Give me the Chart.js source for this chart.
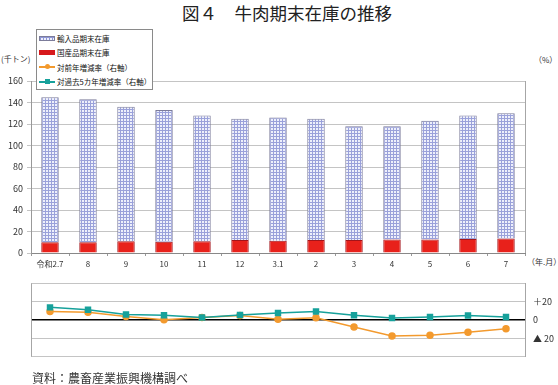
<!DOCTYPE html>
<html lang="ja">
<head>
<meta charset="utf-8">
<script src="https://cdn.jsdelivr.net/npm/chart.js@4/dist/chart.umd.min.js"></script>
<style>
  html, body { margin: 0; padding: 0; background: #fff; }
  body { width: 558px; height: 385px; position: relative; overflow: hidden;
         font-family: "Noto Sans CJK JP", "Noto Sans", sans-serif; color: #222; }
  .abs { position: absolute; white-space: nowrap; }
  #title { left: 0; width: 574px; top: 0px; text-align: center; font-size: 17.5px; }
  #footer { left: 32px; top: 369px; font-size: 12px; color: #333; }
  .unit { font-size: 8px; color: #333; }
  #legend { left: 36px; top: 29px; width: 117px; height: 61px; border: 1px solid #8a8a8a;
            background: #fff; font-size: 7.5px; color: #111; z-index: 3; box-sizing: border-box; padding: 1px 0 0 2px; }
  #legend .row { height: 14.5px; display: flex; align-items: center; }
  #legend .sw { width: 16px; height: 5px; margin-right: 2px; position: relative; }
  .sw.imp { border: 1px solid #7c7c9a; height: 3px !important; width: 14px !important;
            background-color: #eef0fb;
            background-image: linear-gradient(#8f97d6 1px, transparent 1px), linear-gradient(90deg, #8f97d6 1px, transparent 1px);
            background-size: 3px 3px; }
  .sw.dom { background: #d7191c; }
  .sw.ln { height: 2px !important; }
  .sw.ln i { position: absolute; left: 6px; top: -2px; width: 5px; height: 5px; }
  canvas { position: absolute; left: 0; }
</style>
</head>
<body>
<div id="title" class="abs">図４　牛肉期末在庫の推移</div>
<div class="abs unit" style="left:1px; top:53px;">(千トン)</div>
<div class="abs unit" style="left:534px; top:54px;">（%）</div>
<div class="abs unit" style="left:527px; top:256px;">（年.月）</div>
<div id="legend" class="abs">
  <div class="row"><span class="sw imp"></span>輸入品期末在庫</div>
  <div class="row"><span class="sw dom"></span>国産品期末在庫</div>
  <div class="row"><span class="sw ln" style="background:#f39a2e"><i style="background:#f39a2e;border-radius:50%"></i></span>対前年増減率（右軸）</div>
  <div class="row"><span class="sw ln" style="background:#17a19b"><i style="background:#17a19b"></i></span>対過去5カ年増減率（右軸）</div>
</div>
<canvas id="stock" width="558" height="200" style="top:70px"></canvas>
<canvas id="rate" width="558" height="100" style="top:270px"></canvas>
<div id="footer" class="abs">資料：農畜産業振興機構調べ</div>

<script>
// 年.月
const months = ['令和2.7', '8', '9', '10', '11', '12', '3.1', '2', '3', '4', '5', '6', '7'];
// 期末在庫（千トン）
const domestic = [10, 10, 11, 10.5, 11, 12, 11.5, 12, 12, 12.5, 12.5, 13, 13.5];
const imported = [135, 133, 125, 122.5, 117, 113, 114.5, 113, 106, 105.5, 110.5, 115, 116.5];
// 増減率（%）
const yoyRate = [9.2, 8.6, 3.7, 0.3, 2.7, 4.9, 0.9, 2.4, -7.7, -17.5, -16.6, -13.3, -9.6];
const fiveYearRate = [13.8, 11.3, 6.1, 5.2, 2.7, 5.5, 7.6, 9.2, 5.2, 2.1, 3.3, 4.9, 3.3];
const stockTicks = [0, 20, 40, 60, 80, 100, 120, 140, 160];

const FONT = '"Noto Sans CJK JP", "Noto Sans", sans-serif';
Chart.defaults.font.family = FONT;
Chart.defaults.color = '#333';

function gridPattern() {
  const c = document.createElement('canvas');
  c.width = 3; c.height = 3;
  const g = c.getContext('2d');
  g.fillStyle = '#eef0fb';
  g.fillRect(0, 0, 3, 3);
  g.fillStyle = '#9aa1da';
  g.fillRect(0, 0, 3, 1);
  g.fillRect(0, 0, 1, 3);
  return g.createPattern(c, 'repeat');
}

// 描画領域の右端の線
const frame = {
  id: 'frame',
  afterDraw(chart) {
    const { ctx, chartArea: a } = chart;
    ctx.save();
    ctx.strokeStyle = '#a6a6a6';
    ctx.lineWidth = 1;
    ctx.beginPath();
    ctx.moveTo(Math.round(a.right) + 0.5, a.top);
    ctx.lineTo(Math.round(a.right) + 0.5, a.bottom);
    ctx.stroke();
    ctx.restore();
  }
};

new Chart(document.getElementById('stock'), {
  type: 'bar',
  data: {
    labels: months,
    datasets: [
      { label: '国産品期末在庫', data: domestic, backgroundColor: '#e8211b', borderColor: '#a3141a', borderWidth: 1 },
      { label: '輸入品期末在庫', data: imported, backgroundColor: gridPattern(), borderColor: '#7c7c9a', borderWidth: 1 },
    ],
  },
  options: {
    responsive: false,
    animation: false,
    layout: { padding: { top: 11, right: 33, left: 0, bottom: 0 } },
    plugins: { legend: { display: false }, tooltip: { enabled: false } },
    datasets: { bar: { categoryPercentage: 1, barPercentage: 0.46 } },
    scales: {
      x: {
        stacked: true,
        grid: { offset: true, drawOnChartArea: false, tickLength: 3, color: '#999' },
        border: { color: '#888' },
        ticks: { font: { size: 8 }, padding: 3, maxRotation: 0, autoSkip: false },
        afterFit: s => { s.height = 17; },
      },
      y: {
        stacked: true,
        min: 0, max: 160,
        afterBuildTicks: s => { s.ticks = stockTicks.map(v => ({ value: v })); },
        grid: { color: '#c4c4c4', tickLength: 4 },
        border: { color: '#999' },
        ticks: { font: { size: 9 }, padding: 4 },
        afterFit: s => { s.width = 31; },
      },
    },
  },
  plugins: [frame],
});

new Chart(document.getElementById('rate'), {
  type: 'line',
  data: {
    labels: months,
    datasets: [
      { label: '対前年増減率（右軸）', data: yoyRate, borderColor: '#f39a2e', backgroundColor: '#f39a2e',
        borderWidth: 1.5, pointStyle: 'circle', pointRadius: 3, order: 2 },
      { label: '対過去5カ年増減率（右軸）', data: fiveYearRate, borderColor: '#17a19b', backgroundColor: '#17a19b',
        borderWidth: 1.5, pointStyle: 'rect', pointRadius: 3.5, order: 1 },
    ],
  },
  options: {
    responsive: false,
    animation: false,
    layout: { padding: { top: 4, right: 0, left: 31, bottom: 9 } },
    plugins: { legend: { display: false }, tooltip: { enabled: false } },
    scales: {
      x: { display: false, offset: true },
      y: {
        position: 'right',
        min: -40, max: 40,
        ticks: {
          stepSize: 20, font: { size: 9 }, padding: 8,
          callback: v => v === 0 ? '0' : Math.abs(v) === 40 ? '' : (v > 0 ? '＋' + v : '▲ ' + (-v)),
        },
        grid: {
          color: c => c.tick && c.tick.value === 0 ? '#000' : '#c4c4c4',
          lineWidth: c => c.tick && c.tick.value === 0 ? 1.5 : 1,
          drawTicks: false,
        },
        border: { color: '#a6a6a6' },
        afterFit: s => { s.width = 33; },
      },
    },
  },
  plugins: [{
    id: 'leftEdge',
    afterDraw(chart) {
      const { ctx, chartArea: a } = chart;
      ctx.save();
      ctx.strokeStyle = '#a6a6a6';
      ctx.beginPath();
      ctx.moveTo(Math.round(a.left) + 0.5, a.top);
      ctx.lineTo(Math.round(a.left) + 0.5, a.bottom);
      ctx.stroke();
      ctx.restore();
    }
  }],
});
</script>
</body>
</html>
